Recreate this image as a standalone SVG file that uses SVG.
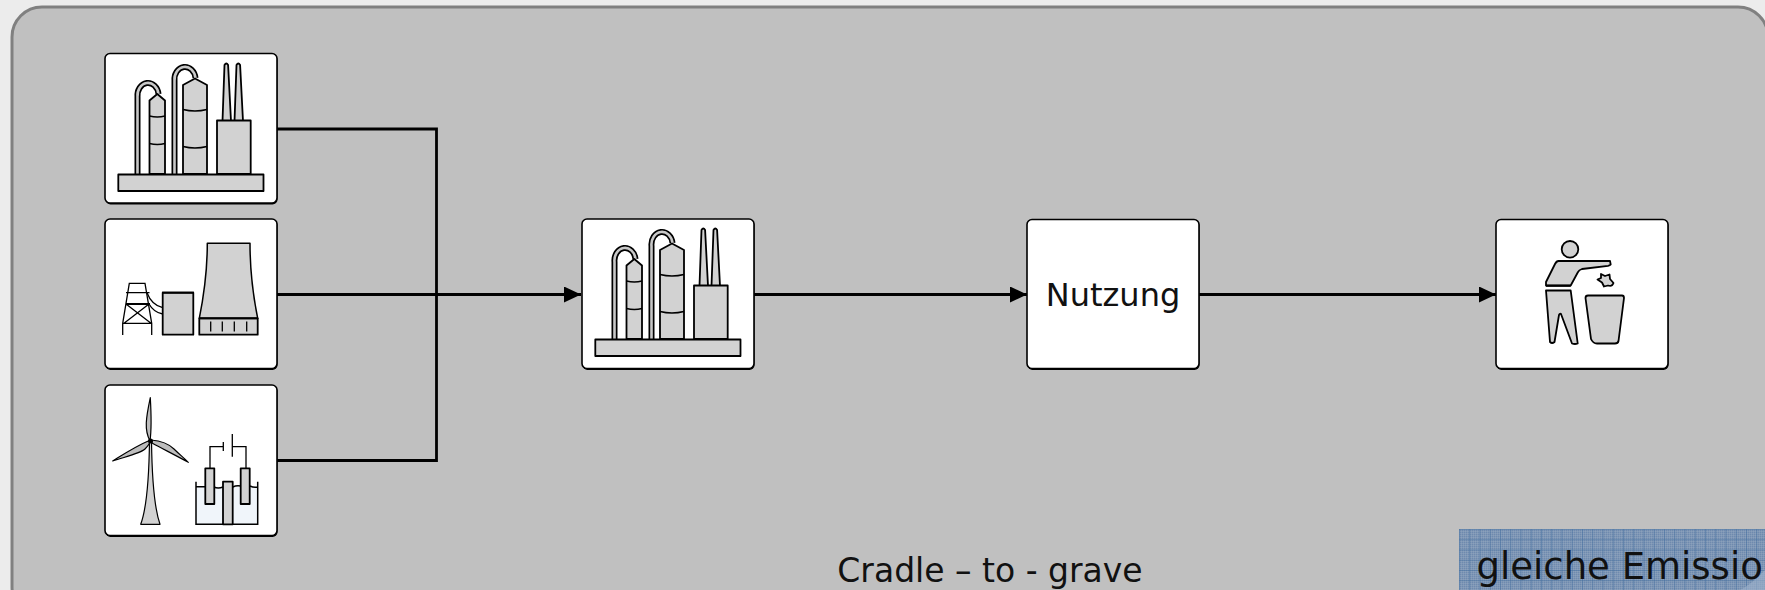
<svg xmlns="http://www.w3.org/2000/svg" xmlns:xlink="http://www.w3.org/1999/xlink" width="1765" height="590" viewBox="0 0 1765 590">
<style>
.box{fill:#fff;stroke:#000;stroke-width:1.6}
.sh{fill:#000}
.g{fill:#d2d2d2;stroke:#000;stroke-width:1.8;stroke-linejoin:round}
.t{fill:none;stroke:#000;stroke-width:1.3}
.c{fill:none;stroke:#000;stroke-width:2.8}
.lbl{font-family:"DejaVu Sans",Verdana,sans-serif;fill:#111}
</style>
<defs>
<marker id="arr" markerUnits="userSpaceOnUse" markerWidth="18" markerHeight="16" refX="17" refY="8" orient="auto"><path d="M0 0L17 8L0 16Z" fill="#000"/></marker>
<pattern id="dots" width="2" height="2" patternUnits="userSpaceOnUse"><rect width="2" height="2" fill="#7f97b6"/><rect width="1" height="1" fill="#6f8aae"/><rect x="1" y="1" width="1" height="1" fill="#8aa0bb"/></pattern>
<pattern id="grid" x="1459" y="529" width="10.25" height="10.25" patternUnits="userSpaceOnUse"><path d="M0 0H10.25M0 0V10.25" stroke="#44709f" stroke-width="1" fill="none"/></pattern>
<g id="plant">
<path d="M137.500 174V97a10.500 12.500 0 0 1 21 -3" fill="none" stroke="#000" stroke-width="6"/>
<path d="M137.500 174V97a10.500 12.500 0 0 1 21 -3" fill="none" stroke="#c8c8c8" stroke-width="2.600"/>
<path d="M174.500 174V81a10.500 12.500 0 0 1 21 -3" fill="none" stroke="#000" stroke-width="6"/>
<path d="M174.500 174V81a10.500 12.500 0 0 1 21 -3" fill="none" stroke="#c8c8c8" stroke-width="2.600"/>
<path class="g" d="M149.500 174V100.500L157.300 94L165 100.500V174Z"/>
<path class="t" d="M149.500 116q7.800 2 15.500 0M149.500 143.500q7.800 2 15.500 0"/>
<path class="g" d="M183 174V85L195 78.500L207 85V174Z"/>
<path class="t" style="stroke-width:1.600" d="M183 109.500q12 3 24 0M183 146.500q12 3 24 0"/>
<path class="g" d="M222.500 121L224.500 65q1.800 -3 3.600 0L231 121Z"/>
<path class="g" d="M234.500 121L236.500 65q1.800 -3 3.600 0L243 121Z"/>
<rect class="g" x="217" y="120.500" width="33.700" height="53.500"/>
<rect class="g" x="118.300" y="174.500" width="145.200" height="16.500"/>
<path d="M118 191H264" stroke="#000" stroke-width="1.800"/>
</g>
</defs>
<rect width="1765" height="590" fill="#ececec"/>
<rect x="12" y="7" width="1756" height="610" rx="30" ry="30" fill="#c0c0c0" stroke="#808080" stroke-width="3"/>

<g id="connectors">
<path class="c" d="M277 129H436.500V460.500H277"/>
<path class="c" d="M277 294.500H581" marker-end="url(#arr)"/>
<path class="c" d="M754 294.500H1027" marker-end="url(#arr)"/>
<path class="c" d="M1199 294.500H1496" marker-end="url(#arr)"/>
</g>

<g id="node-raw">
<rect class="sh" x="105.500" y="54.500" width="172" height="150" rx="5"/>
<rect class="box" x="105" y="53.500" width="172" height="149.500" rx="5"/>
<use xlink:href="#plant" href="#plant"/>
</g>

<g id="node-power">
<rect class="sh" x="105.500" y="220" width="172" height="150" rx="5"/>
<rect class="box" x="105" y="219" width="172" height="149.500" rx="5"/>
<path class="t" d="M147 292.700c3 8 8 13 15.700 15M149 304c4 7 8 9 13.700 10"/>
<path class="t" d="M122.700 335V323.300L129.300 283.300H145L151.700 323.300V335M126 292.700H149.500M122.700 323.300H151.700M126 304L151 323.300M149 304L124 323.300"/>
<path d="M126 304H150" stroke="#000" stroke-width="2"/>
<rect class="g" x="162.700" y="292.700" width="30.600" height="42"/>
<path d="M162 292.700H194" stroke="#000" stroke-width="2"/>
<path class="g" style="stroke-width:1.500" d="M207.300 243.300H250C250 275 254 300 257.700 318.300H199.300C203 300 207.300 275 207.300 243.300Z"/>
<rect class="g" x="199.300" y="318.300" width="58.400" height="16.400"/>
<path d="M199 318.300H258" stroke="#000" stroke-width="1.800"/>
<path class="t" d="M210.700 321.500V331.500M222.300 321.500V331.500M234.300 321.500V331.500M246.700 321.500V331.500"/>
</g>

<g id="node-renewable">
<rect class="sh" x="105.500" y="386" width="172" height="151" rx="5"/>
<rect class="box" x="105" y="385" width="172" height="150.500" rx="5"/>
<path class="g" style="stroke-width:1.200" d="M149.500 441C149 480 146 510 140.700 524.300H160C155 510 152 480 151.500 441Z"/>
<path class="g" style="stroke-width:1.200;fill:#bdbdbd" d="M150.300 397.700C146 418 144 430 150 441C151.500 430 151.500 418 150.300 397.700Z"/>
<path class="g" style="stroke-width:1.200;fill:#bdbdbd" d="M150.500 440C136 446 124 454 112.700 461C128 456 141 453 145 449C148 446 150 443 150.500 440Z"/>
<path class="g" style="stroke-width:1.200;fill:#bdbdbd" d="M151 440C163 441 170 445 174 449C179 454 184 458 188.300 462.300C175 455 161 448 152 443Z"/>
<circle cx="150.500" cy="441" r="2.500"/>
<path d="M196 486.700H257.700V524.300H196Z" fill="#f0f5fa"/>
<path class="t" style="stroke-width:1.500" d="M196 481.700V524.300H257.700V481.700M196 486.700H205M214 487q4 2 9 0M232.700 487q4 -2 8 -1M250 486q4 2 7.700 1"/>
<path class="t" d="M210 468V446.700H223M223.300 442V451M232.300 434V456.700M232.300 446.700H246V468"/>
<rect class="g" x="205.300" y="468.300" width="9" height="35.700"/>
<rect class="g" x="240.700" y="468.300" width="9" height="35.700"/>
<rect class="g" x="223" y="481.700" width="9.700" height="42.600"/>
</g>

<g id="node-production">
<rect class="sh" x="582.500" y="220" width="172" height="150" rx="5"/>
<rect class="box" x="582" y="219" width="172" height="149.500" rx="5"/>
<use xlink:href="#plant" href="#plant" x="477" y="165"/>
</g>

<g id="node-use">
<rect class="sh" x="1027.500" y="220.500" width="172" height="149.500" rx="5"/>
<rect class="box" x="1027" y="219.500" width="172" height="149" rx="5"/>
<text class="lbl" x="1113" y="306" font-size="32" text-anchor="middle">Nutzung</text>
</g>

<g id="node-disposal">
<rect class="sh" x="1496.500" y="220.500" width="172" height="149.500" rx="5"/>
<rect class="box" x="1496" y="219.500" width="172" height="149" rx="5"/>
<circle class="g" cx="1570" cy="249.300" r="8.300"/>
<path class="g" d="M1558.500 261H1610L1610.700 264.500Q1610 265.500 1608 265.800L1582 269Q1579 270 1578 272L1570.700 285.500H1546V282L1555 264Q1556.500 261 1558.500 261Z"/>
<path d="M1546 285.800H1570.700" stroke="#000" stroke-width="2"/>
<path class="g" d="M1546 290.500H1570.700L1577.700 343.500Q1575 344.500 1572 343.500L1561 314Q1560 313 1559 315L1554.500 342Q1552 344 1550 342Z"/>
<path class="g" d="M1588 295.500Q1585.500 295.500 1585.500 298L1591 339Q1593 343.500 1597 343.500H1615Q1618 343.500 1618.500 341L1624 298Q1624 295.500 1622 295.500Z"/>
<path class="g" d="M1601 274L1605 276L1609.500 274.500L1610 279L1613.500 283Q1612 287 1608 285.500L1604 286.500L1602 282.500L1597.500 279.500L1601 278Z"/>
</g>

<text class="lbl" x="990" y="581.500" font-size="33" text-anchor="middle">Cradle – to - grave</text>

<g id="note">
<rect x="1459" y="529" width="306" height="61" fill="url(#dots)"/>
<rect x="1459" y="529" width="306" height="61" fill="url(#grid)"/>
<path d="M1740 590Q1752 584 1765 570V590Z" fill="#9fb2cb" opacity=".6"/>
<text class="lbl" x="1476.500" y="579" font-size="37">gleiche Emissio</text>
</g>
</svg>
